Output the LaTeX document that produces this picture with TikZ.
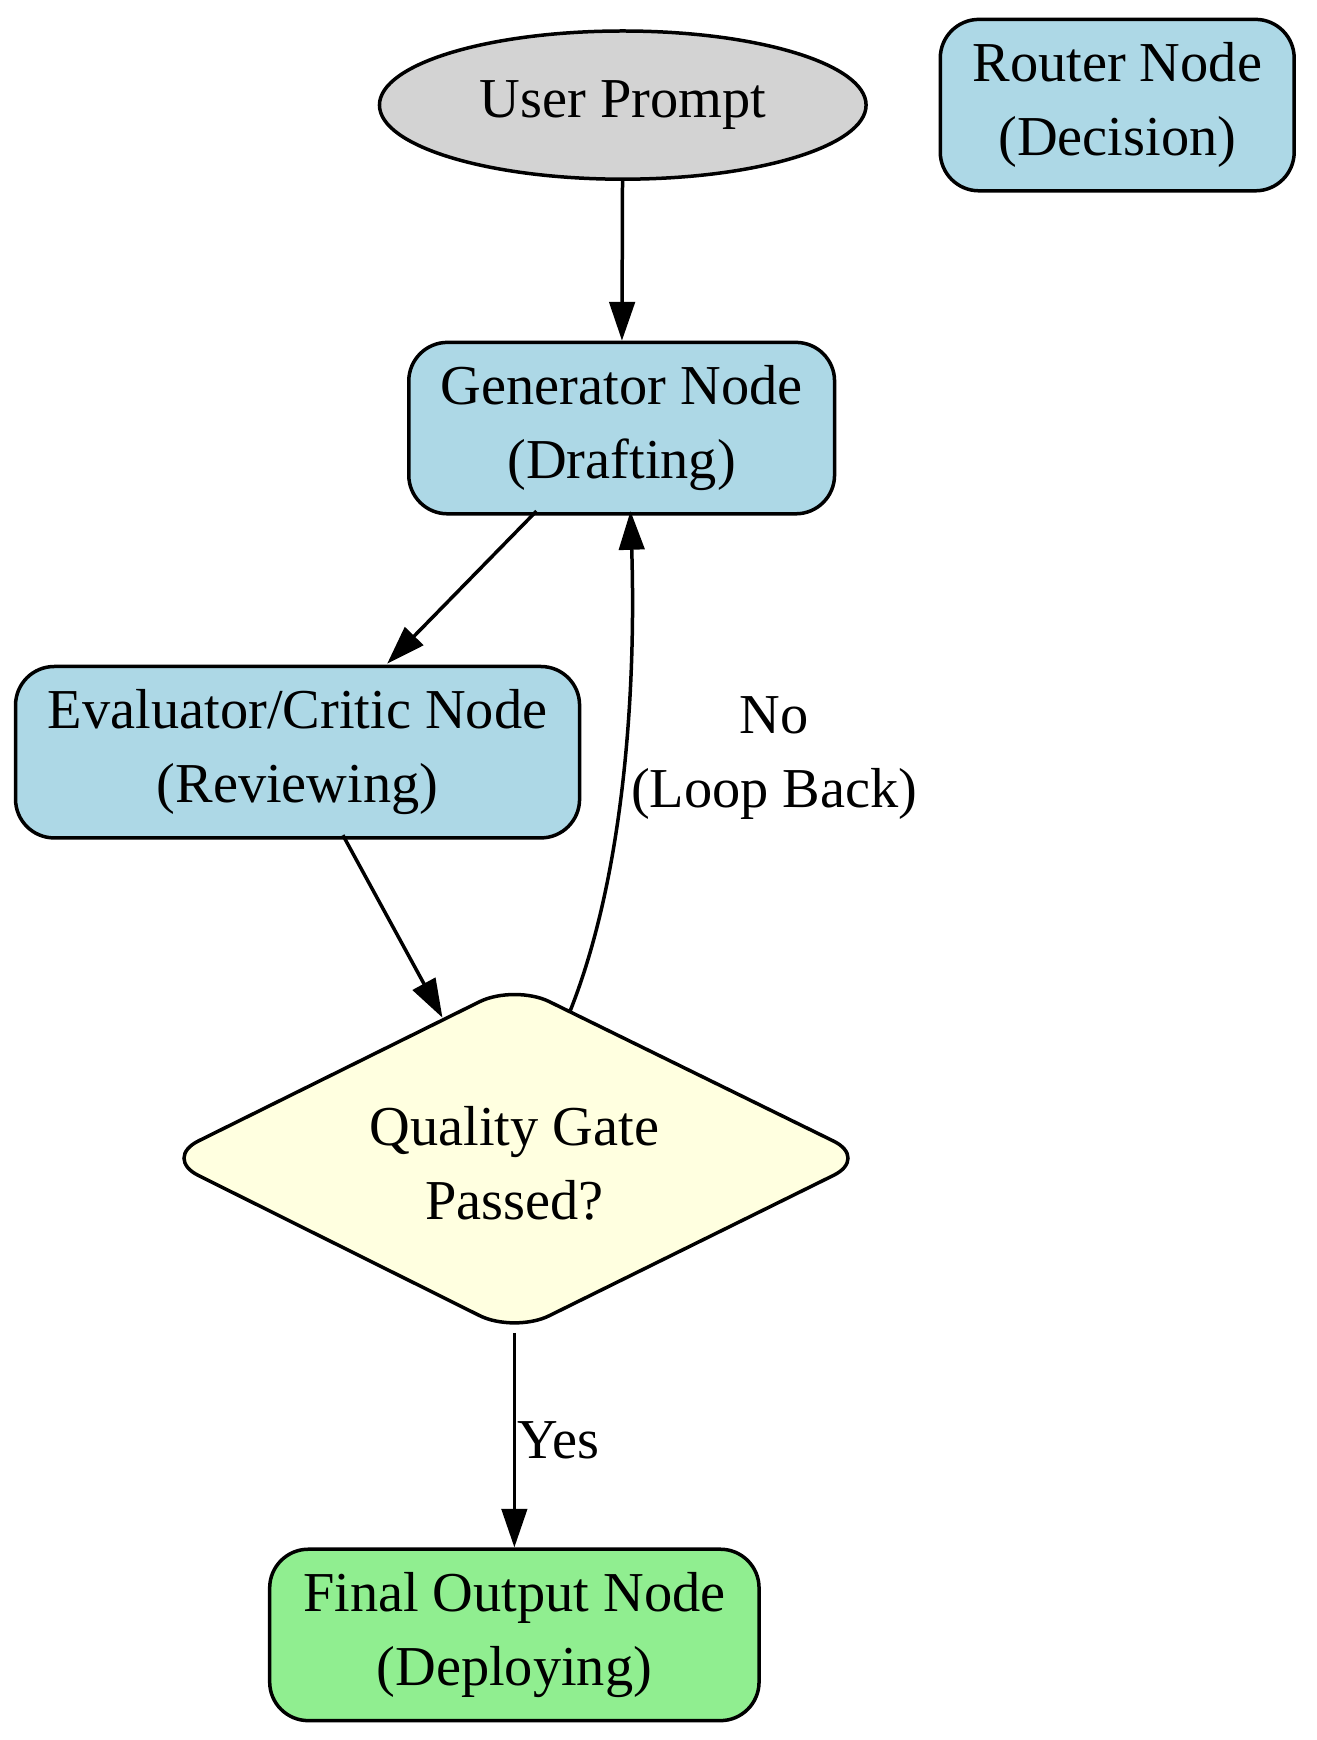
\documentclass[tikz,border=0pt]{standalone}
\usepackage{fontspec}
\setmainfont{Liberation Serif}
\usetikzlibrary{arrows.meta,shapes.geometric}

\tikzset{
	box/.style={draw, line width=1.8pt, rounded corners=0.7cm, fill=nodeblue, align=center, inner sep=0pt},
	edge/.style={line width=1.8pt, -{Triangle[length=0.7cm, width=0.46cm]}},
	lbl/.style={align=center}
}
\definecolor{nodeblue}{HTML}{ADD8E6}
\definecolor{nodegray}{HTML}{D3D3D3}
\definecolor{nodeyellow}{HTML}{FFFFE0}
\definecolor{nodegreen}{HTML}{90EE90}

\begin{document}
\begin{tikzpicture}[x=0.02cm, y=-0.02cm, every node/.style={font=\fontsize{29}{38}\selectfont}]

		\useasboundingbox (0,0) rectangle (1190,1573);

		% Draw the nodes of the loop
		\node[draw, line width=1.8pt, ellipse, fill=nodegray, minimum width=8.8cm, minimum height=2.68cm] (prompt) at (563,95) {User Prompt};
		\node[box, minimum width=6.4cm, minimum height=3.1cm] (router) at (1010,95) {Router Node\\(Decision)};
		\node[box, minimum width=7.7cm, minimum height=3.1cm] (gen) at (562,387) {Generator Node\\(Drafting)};
		\node[box, minimum width=10.2cm, minimum height=3.1cm] (eval) at (269,680) {Evaluator/Critic Node\\(Reviewing)};
		\node[box, minimum width=8.85cm, minimum height=3.1cm, fill=nodegreen] (final) at (465,1478) {Final Output Node\\(Deploying)};

		% Draw the quality gate
		\draw[line width=1.8pt, fill=nodeyellow, rounded corners=0.7cm] (465,890) -- (785,1047) -- (465,1205) -- (148,1047) -- cycle;
		\node[align=center] (gate) at (465,1052) {Quality Gate\\Passed?};
		\coordinate (gateN) at (400,920);
		\coordinate (gateNE) at (515,915);
		\coordinate (gateS) at (465,1205);

		% Draw the connectors
		\draw[edge] (prompt) -- (gen);
		\draw[edge] (485,462) -- (350,600);
		\draw[edge] (310,755) -- (gateN);
		\draw[edge] (gateNE) .. controls (565,790) and (575,620) .. (570,462);
		\node[lbl] (no) at (700,685) {No\\(Loop Back)};
		\draw[edge] (gateS) -- (final) node[midway, right, xshift=-0.1cm] (yes) {Yes};

	\end{tikzpicture}
\end{document}
